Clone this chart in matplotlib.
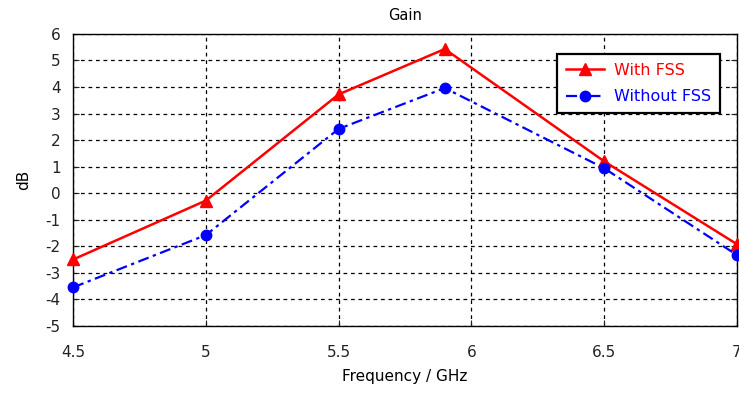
import matplotlib
matplotlib.use('Agg')
import matplotlib.pyplot as plt

plt.rcParams['axes.unicode_minus'] = False

# Datos
freq = [4.5, 5.0, 5.5, 5.9, 6.5, 7.0]
gain_fss = [-2.5, -0.28, 3.72, 5.43, 1.2, -1.92]
gain_no_fss = [-3.55, -1.58, 2.42, 3.96, 0.94, -2.33]

fig = plt.figure(figsize=(7.39, 3.94), dpi=100)
ax = fig.add_axes([0.099, 0.173, 0.898, 0.741])

ax.plot(freq, gain_fss, color='red', linestyle='-', linewidth=1.8,
        marker='^', markersize=8, label='With FSS', clip_on=False, zorder=3)
ax.plot(freq, gain_no_fss, color='blue', linestyle=(0, (5, 2, 1.5, 2)), linewidth=1.6,
        marker='o', markersize=7.5, label='Without FSS', clip_on=False, zorder=3)

ax.set_xlim(4.5, 7)
ax.set_ylim(-5, 6)
ax.set_xticks([4.5, 5, 5.5, 6, 6.5, 7])
ax.set_xticklabels(['4.5', '5', '5.5', '6', '6.5', '7'])
ax.set_yticks(range(-5, 7))
ax.grid(True, color='black', linestyle='--', linewidth=0.9, dashes=(3, 3))
ax.tick_params(direction='in', length=4, labelsize=11, right=True, top=False,
               colors='#222222')
ax.tick_params(axis='x', pad=14)
ax.tick_params(axis='y', pad=9)
for s in ax.spines.values():
    s.set_linewidth(1.0)

ax.set_title('Gain', fontsize=10.5, pad=10)
ax.set_xlabel('Frequency / GHz', fontsize=11, labelpad=6)
ax.set_ylabel('dB', fontsize=11, labelpad=10)

leg = ax.legend(loc='upper right', bbox_to_anchor=(0.986, 0.958), fontsize=11.5,
                frameon=True, fancybox=False, framealpha=1, handlelength=2.4,
                handletextpad=0.6, borderpad=0.55, labelspacing=0.7)
leg.get_frame().set_edgecolor('black')
leg.get_frame().set_linewidth(1.6)
for t, c in zip(leg.get_texts(), ['red', 'blue']):
    t.set_color(c)

fig.savefig('out.png', dpi=100)
